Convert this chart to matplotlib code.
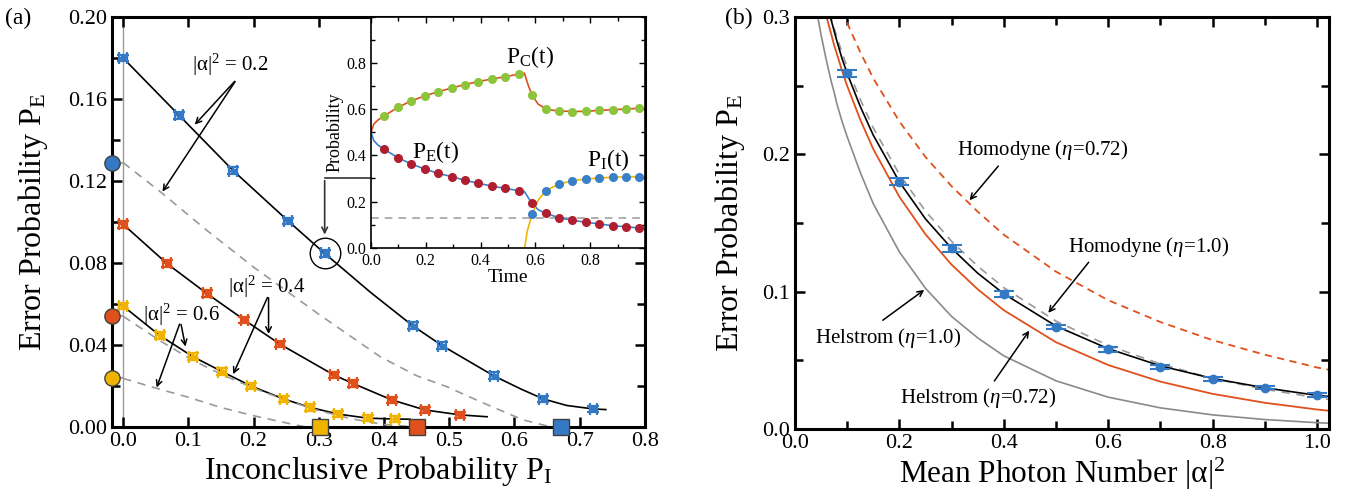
import numpy as np
import matplotlib
matplotlib.use("Agg")
import matplotlib.pyplot as plt
from matplotlib.ticker import MultipleLocator, FormatStrFormatter

plt.rcParams['font.family'] = ['Liberation Serif', 'DejaVu Serif']
plt.rcParams['mathtext.fontset'] = 'custom'
plt.rcParams['mathtext.rm'] = 'Liberation Serif'
plt.rcParams['mathtext.it'] = 'Liberation Serif:italic'

# colours
blue = '#3479c4'
orange = '#e0501c'
yellow = '#f0b400'
gray = '#9a9a9a'

# ---------- panel (a) data ----------
# |alpha|^2 = 0.2
b_pi = [0.0, 0.086, 0.169, 0.253, 0.309, 0.444, 0.489, 0.568, 0.644, 0.721]
b_pe = [0.180, 0.152, 0.125, 0.1005, 0.0847, 0.0494, 0.0397, 0.025, 0.0137, 0.0088]
b_line_x = [0.0, 0.086, 0.169, 0.253, 0.309, 0.38, 0.444, 0.489, 0.568, 0.61, 0.644, 0.68, 0.721, 0.74]
b_line_y = [0.180, 0.152, 0.125, 0.1005, 0.0847, 0.0655, 0.0494, 0.0397, 0.025, 0.0185, 0.0137, 0.0105, 0.0088, 0.0085]
b_dash_x = [0.0, 0.06, 0.128, 0.2, 0.3, 0.394, 0.45, 0.496, 0.55, 0.613, 0.65, 0.672]
b_dash_y = [0.129, 0.114, 0.096, 0.078, 0.055, 0.0343, 0.025, 0.0197, 0.012, 0.0035, 0.0005, 0.0]

# |alpha|^2 = 0.4
r_pi = [0.0, 0.067, 0.128, 0.186, 0.240, 0.323, 0.352, 0.412, 0.463, 0.517]
r_pe = [0.0989, 0.0798, 0.0652, 0.0522, 0.0405, 0.0254, 0.0213, 0.0132, 0.0083, 0.0059]
r_line_x = [0.0, 0.067, 0.128, 0.186, 0.240, 0.323, 0.352, 0.412, 0.463, 0.517, 0.558]
r_line_y = [0.0989, 0.0798, 0.0652, 0.0522, 0.0405, 0.0254, 0.0213, 0.0132, 0.0083, 0.0059, 0.005]
r_dash_x = [0.0, 0.057, 0.107, 0.152, 0.2, 0.25, 0.3, 0.35, 0.4, 0.45]
r_dash_y = [0.054, 0.042, 0.0325, 0.0255, 0.019, 0.013, 0.008, 0.004, 0.0012, 0.0]

# |alpha|^2 = 0.6
y_pi = [0.0, 0.056, 0.107, 0.152, 0.196, 0.246, 0.286, 0.330, 0.375, 0.417]
y_pe = [0.059, 0.0447, 0.0343, 0.027, 0.020, 0.0137, 0.0096, 0.0063, 0.0043, 0.0039]
y_line_x = [0.0, 0.056, 0.107, 0.152, 0.196, 0.246, 0.286, 0.330, 0.375, 0.417, 0.44]
y_line_y = [0.059, 0.0447, 0.0343, 0.027, 0.020, 0.0137, 0.0096, 0.0063, 0.0043, 0.0039, 0.0038]
y_dash_x = [0.0, 0.05, 0.1, 0.15, 0.2, 0.25, 0.28]
y_dash_y = [0.0237, 0.019, 0.0145, 0.0095, 0.0055, 0.002, 0.0]

# ideal endpoints (circles on P_E axis, squares on P_I axis)
pe_ideal = [0.129, 0.054, 0.0237]
pi_ideal = [0.672, 0.45, 0.302]

# ---------- inset data ----------
t_pts = [0.049, 0.098, 0.147, 0.196, 0.245, 0.294, 0.343, 0.392, 0.441, 0.49, 0.539,
         0.588, 0.637, 0.686, 0.735, 0.784, 0.833, 0.882, 0.931, 0.98]
pc_pts = [0.572, 0.608, 0.636, 0.658, 0.676, 0.692, 0.707, 0.72, 0.731, 0.741, 0.752,
          0.662, 0.603, 0.593, 0.590, 0.591, 0.595, 0.598, 0.601, 0.604]
pe_pts = [0.426, 0.39, 0.363, 0.341, 0.322, 0.308, 0.292, 0.279, 0.267, 0.257, 0.247,
          0.192, 0.149, 0.13, 0.119, 0.110, 0.103, 0.095, 0.091, 0.085]
t_pi_pts = [0.588, 0.637, 0.686, 0.735, 0.784, 0.833, 0.882, 0.931, 0.98]
pi_pts = [0.145, 0.246, 0.276, 0.29, 0.298, 0.302, 0.305, 0.307, 0.308]

pc_line_t = [0.0, 0.01, 0.025, 0.049, 0.098, 0.147, 0.196, 0.245, 0.294, 0.343, 0.392, 0.441,
             0.49, 0.539, 0.56, 0.575, 0.588, 0.61, 0.637, 0.66, 0.686, 0.735, 0.784, 0.833,
             0.882, 0.931, 0.98, 1.0]
pc_line_v = [0.5, 0.535, 0.553, 0.572, 0.608, 0.636, 0.658, 0.676, 0.692, 0.707, 0.72, 0.731,
             0.741, 0.752, 0.756, 0.7, 0.662, 0.622, 0.603, 0.596, 0.593, 0.590, 0.591, 0.595,
             0.598, 0.601, 0.604, 0.605]
pe_line_t = [0.0, 0.01, 0.025, 0.049, 0.098, 0.147, 0.196, 0.245, 0.294, 0.343, 0.392, 0.441,
             0.49, 0.539, 0.56, 0.575, 0.588, 0.61, 0.637, 0.686, 0.735, 0.784, 0.833,
             0.882, 0.931, 0.98, 1.0]
pe_line_v = [0.5, 0.465, 0.445, 0.426, 0.39, 0.363, 0.341, 0.322, 0.308, 0.292, 0.279, 0.267,
             0.257, 0.247, 0.243, 0.215, 0.192, 0.165, 0.149, 0.13, 0.119, 0.110, 0.103,
             0.095, 0.091, 0.085, 0.083]
pi_line_t = [0.555, 0.561, 0.57, 0.588, 0.61, 0.637, 0.686, 0.735, 0.784, 0.833, 0.882, 0.931, 0.98, 1.0]
pi_line_v = [-0.1, 0.0, 0.07, 0.145, 0.205, 0.246, 0.276, 0.29, 0.298, 0.302, 0.305, 0.307, 0.308, 0.309]
pe_bound = 0.13

# ---------- panel (b) data ----------
n_pts = [0.1, 0.2, 0.3, 0.4, 0.5, 0.6, 0.7, 0.8, 0.9, 1.0]
pe_meas = [0.259, 0.180, 0.1316, 0.0983, 0.0745, 0.0582, 0.0454, 0.0362, 0.0301, 0.0248]
pe_err = [0.0025, 0.0025, 0.0025, 0.002, 0.0015, 0.0018, 0.0015, 0.0015, 0.0012, 0.0015]

n_curve = [0.03, 0.04, 0.05, 0.06, 0.07, 0.075, 0.08, 0.09, 0.1, 0.125, 0.15, 0.2, 0.25, 0.3,
           0.35, 0.4, 0.5, 0.6, 0.7, 0.8, 0.9, 1.0, 1.023]
hel_10 = [0.332, 0.3077, 0.2871, 0.2688, 0.2523, 0.2454, 0.2373, 0.2243, 0.2129, 0.187, 0.1641,
          0.1290, 0.1025, 0.0820, 0.0664, 0.0533, 0.0351, 0.0232, 0.0154, 0.0103, 0.0069, 0.0046, 0.0042]
hel_072 = [0.365, 0.341, 0.3169, 0.3008, 0.2869, 0.2796, 0.2736, 0.2612, 0.2499, 0.2254, 0.2039,
           0.1691, 0.1418, 0.1197, 0.1018, 0.0865, 0.0632, 0.0466, 0.0345, 0.0256, 0.0191, 0.0142, 0.0133]
hom_10 = [0.3646, 0.3515, 0.3274, 0.3121, 0.2983, 0.2919, 0.2858, 0.2744, 0.2635, 0.2401, 0.2193,
          0.1855, 0.1587, 0.1367, 0.1186, 0.1030, 0.0786, 0.0609, 0.0474, 0.0368, 0.0289, 0.0228, 0.0216]
hom_072 = [0.40, 0.385, 0.371, 0.356, 0.337, 0.330, 0.3156, 0.3053, 0.2958, 0.2745, 0.2554,
           0.2240, 0.1981, 0.1768, 0.1583, 0.1415, 0.1146, 0.0938, 0.0779, 0.0647, 0.0541, 0.0448, 0.0431]
exp_fit = [0.36, 0.345, 0.325, 0.311, 0.297, 0.29, 0.283, 0.27, 0.259, 0.235, 0.214,
           0.180, 0.153, 0.1316, 0.1135, 0.0985, 0.0750, 0.0585, 0.0460, 0.0368, 0.0300, 0.0245, 0.0237]

fig = plt.figure(figsize=(13.51, 5.03), dpi=100)
ax = fig.add_axes([0.0829, 0.1511, 0.3945, 0.8151])
ax2 = fig.add_axes([0.5884, 0.1471, 0.3953, 0.8191])

dash = (0, (5, 4))

# --- panel (a) ---
ax.axvline(0, color=gray, lw=1.0, zorder=1)
for lx, ly in [(b_line_x, b_line_y), (r_line_x, r_line_y), (y_line_x, y_line_y)]:
    ax.plot(lx, ly, color='k', lw=1.2, zorder=2)
for dx, dy in [(b_dash_x, b_dash_y), (r_dash_x, r_dash_y), (y_dash_x, y_dash_y)]:
    ax.plot(dx, dy, color=gray, lw=1.2, ls=dash, zorder=2)

for xs, ys, c in [(b_pi, b_pe, blue), (r_pi, r_pe, orange), (y_pi, y_pe, yellow)]:
    ax.errorbar(xs, ys, xerr=0.006, yerr=0.0016, fmt='s', ms=3.5, color=c, ecolor=c,
                elinewidth=1.6, capsize=4, capthick=1.6, zorder=4)

for pe0, pi0, c in zip(pe_ideal, pi_ideal, [blue, orange, yellow]):
    ax.plot([-0.017, 0], [pe0, pe0], color=gray, lw=1.2, zorder=3, clip_on=False)
    ax.plot(-0.017, pe0, 'o', ms=11, mfc=c, mec='#404040', mew=1, clip_on=False, zorder=6)
    ax.plot(pi0, 0, 's', ms=11, mfc=c, mec='#404040', mew=1, clip_on=False, zorder=6)

# circled point and connector to the inset
ax.plot(b_pi[4], b_pe[4], 'o', ms=22, mfc='none', mec='k', mew=1.0, zorder=5)
ax.plot([b_pi[4], 0.38], [0.1215, 0.1215], color='#333333', lw=1.2, zorder=3)
ax.annotate('', xy=(b_pi[4], 0.0925), xytext=(b_pi[4], 0.1215),
            arrowprops=dict(arrowstyle='->', color='#333333', lw=1.2))

arr = dict(arrowstyle='->', color='k', lw=1.1)
ax.text(0.164, 0.1766, r'|α|$^2$ = 0.2', fontsize=15, ha='center', va='center')
ax.annotate('', xy=(0.107, 0.1465), xytext=(0.174, 0.1696), arrowprops=arr)
ax.annotate('', xy=(0.058, 0.1137), xytext=(0.174, 0.1696), arrowprops=arr)
ax.text(0.22, 0.0684, r'|α|$^2$ = 0.4', fontsize=15, ha='center', va='center')
ax.annotate('', xy=(0.223, 0.044), xytext=(0.223, 0.0644), arrowprops=arr)
ax.annotate('', xy=(0.167, 0.0245), xytext=(0.223, 0.0644), arrowprops=arr)
ax.text(0.09, 0.0546, r'|α|$^2$ = 0.6', fontsize=15, ha='center', va='center')
ax.annotate('', xy=(0.0965, 0.0379), xytext=(0.088, 0.0514), arrowprops=arr)
ax.annotate('', xy=(0.05, 0.018), xytext=(0.088, 0.0514), arrowprops=arr)

ax.set_xlim(-0.017, 0.8)
ax.set_ylim(0, 0.20)
ax.xaxis.set_major_locator(MultipleLocator(0.1))
ax.xaxis.set_major_formatter(FormatStrFormatter('%.1f'))
ax.yaxis.set_major_locator(MultipleLocator(0.04))
ax.yaxis.set_minor_locator(MultipleLocator(0.02))
ax.yaxis.set_major_formatter(FormatStrFormatter('%.2f'))
ax.set_xlabel(r'Inconclusive Probability P$_\mathrm{I}$', fontsize=23, labelpad=2)
ax.set_ylabel(r'Error Probability P$_\mathrm{E}$', fontsize=23, labelpad=13)
fig.text(0.004, 0.985, '(a)', fontsize=17, va='top')

# --- panel (b) ---
ax2.plot(n_curve, hel_10, color='#8a8a8a', lw=1.2)
ax2.plot(n_curve, hel_072, color=orange, lw=1.3)
ax2.plot(n_curve, hom_072, color=orange, lw=1.3, ls=(0, (4, 3)))
ax2.plot(n_curve, hom_10, color=gray, lw=1.2, ls=dash)
ax2.plot(n_curve, exp_fit, color='k', lw=1.2)
ax2.errorbar(n_pts, pe_meas, yerr=pe_err, fmt='o', ms=6, color=blue, ecolor=blue,
             elinewidth=1.5, capsize=7, capthick=1.5, zorder=5)

ax2.text(0.310, 0.203, r'Homodyne ($\eta$=0.72)', fontsize=15, va='center')
ax2.annotate('', xy=(0.331, 0.165), xytext=(0.393, 0.193), arrowprops=arr)
ax2.text(0.524, 0.1328, r'Homodyne ($\eta$=1.0)', fontsize=15, va='center')
ax2.annotate('', xy=(0.482, 0.083), xytext=(0.566, 0.123), arrowprops=arr)
ax2.text(0.038, 0.066, r'Helstrom ($\eta$=1.0)', fontsize=15, va='center')
ax2.annotate('', xy=(0.252, 0.1025), xytext=(0.164, 0.078), arrowprops=arr)
ax2.text(0.201, 0.0223, r'Helstrom ($\eta$=0.72)', fontsize=15, va='center')
ax2.annotate('', xy=(0.452, 0.0733), xytext=(0.379, 0.0333), arrowprops=arr)

ax2.set_xlim(0, 1.023)
ax2.set_ylim(0, 0.3)
ax2.xaxis.set_major_locator(MultipleLocator(0.2))
ax2.xaxis.set_minor_locator(MultipleLocator(0.1))
ax2.xaxis.set_major_formatter(FormatStrFormatter('%.1f'))
ax2.yaxis.set_major_locator(MultipleLocator(0.1))
ax2.yaxis.set_minor_locator(MultipleLocator(0.05))
ax2.yaxis.set_major_formatter(FormatStrFormatter('%.1f'))
ax2.set_xlabel(r'Mean Photon Number |α|$^2$', fontsize=22.5, labelpad=2)
ax2.set_ylabel(r'Error Probability P$_\mathrm{E}$', fontsize=23, labelpad=11)
fig.text(0.537, 0.985, '(b)', fontsize=17, va='top')

for a in (ax, ax2):
    for s in a.spines.values():
        s.set_linewidth(2.2)
    a.tick_params(which='both', direction='in', top=True, right=True, labelsize=16, width=1.8)
    a.tick_params(which='major', length=7)
    a.tick_params(which='minor', length=6)

# --- inset ---
ins = fig.add_axes([0.2746, 0.5076, 0.2028, 0.4587])
ins.axhline(pe_bound, color=gray, lw=1.1, ls=dash)
ins.plot(pc_line_t, pc_line_v, color=orange, lw=1.2)
ins.plot(pe_line_t, pe_line_v, color='#3a80c8', lw=1.2)
ins.plot(pi_line_t, pi_line_v, color=yellow, lw=1.2)
ins.plot(t_pts, pc_pts, 'o', ms=5.5, color='#8cc43c')
ins.plot(t_pts, pe_pts, 'o', ms=5.5, color='#b01e30')
ins.plot(t_pi_pts, pi_pts, 'o', ms=5.5, color='#3a80c8')
ins.text(0.582, 0.828, r'P$_\mathrm{C}$(t)', fontsize=17, ha='center', va='center')
ins.text(0.235, 0.416, r'P$_\mathrm{E}$(t)', fontsize=17, ha='center', va='center')
ins.text(0.868, 0.38, r'P$_\mathrm{I}$(t)', fontsize=17, ha='center', va='center')
ins.set_xlim(0, 1.0)
ins.set_ylim(0, 1.0)
ins.xaxis.set_minor_locator(MultipleLocator(0.1))
ins.yaxis.set_minor_locator(MultipleLocator(0.1))
ins.set_xticks([0, 0.2, 0.4, 0.6, 0.8])
ins.set_yticks([0, 0.2, 0.4, 0.6, 0.8])
ins.xaxis.set_major_formatter(FormatStrFormatter('%.1f'))
ins.yaxis.set_major_formatter(FormatStrFormatter('%.1f'))
ins.tick_params(which='both', direction='in', top=True, right=True, labelsize=11.5, width=1.0)
ins.tick_params(which='major', length=4)
ins.tick_params(which='minor', length=3)
for s in ins.spines.values():
    s.set_linewidth(1.2)
ins.set_xlabel('Time', fontsize=14, labelpad=0)
ins.set_ylabel('Probability', fontsize=13, labelpad=2)

fig.savefig('out.png', dpi=100)
